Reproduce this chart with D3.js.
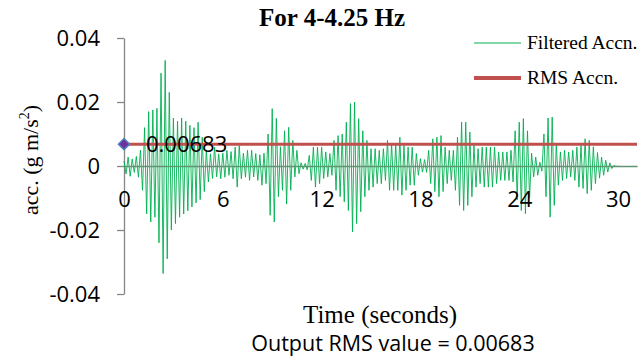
<!DOCTYPE html>
<html lang="en">
<head>
    <meta charset="UTF-8">
    <title>For 4-4.25 Hz</title>
    <script src="https://cdn.jsdelivr.net/npm/d3@7"></script>
    <style>
        body { margin: 0; background: #fff; }
        #chart { width: 644px; height: 360px; }
    </style>
</head>
<body>
<div id="chart"></div>
<script>

    // Band-passed acceleration, one positive and one negative peak per cycle (units of 0.001 g),
    // read off the plot, one row per second.
    const peakPos = [
        1.5, 2.8, 2.2, 3.0,    5.0, 12.0, 17.0, 17.5,   18.0, 29.0, 33.0, 23.0,  15.0, 14.0, 15.0, 14.0,
        12.7, 12.0, 13.7, 9.0, 5.0, 3.8, 5.9, 3.8,      4.0, 4.9, 4.5, 5.9,      6.4, 4.0, 4.9, 4.9,
        3.9, 3.5, 4.0, 10.0,   17.9, 14.9, 6.0, 11.0,   12.1, 8.0, 4.9, 1.0,     0.8, 3.3, 5.9, 5.9,
        5.9, 4.4, 3.9, 8.0,    9.5, 10.0, 13.7, 19.5,   20.0, 14.8, 11.0, 8.0,   5.4, 5.4, 4.9, 5.4,
        8.0, 7.0, 7.0, 9.0,    6.4, 5.9, 5.9, 3.9,      2.3, 2.0, 4.9, 8.5,      9.0, 9.5, 5.9, 4.9,
        4.9, 9.0, 13.7, 13.7,  10.6, 6.4, 5.4, 5.9,     5.9, 5.9, 5.9, 4.4,      4.4, 4.4, 4.9, 11.0,
        13.7, 14.8, 11.0, 4.0, 2.8, 1.2, 10.0, 15.0,    15.3, 7.0, 4.4, 4.9,     4.4, 4.9, 5.9, 6.4,
        8.5, 8.0, 6.0, 4.2,    2.8, 1.8, 1.0, 0.2
    ];
    const peakNeg = [
        -2.5, -3.2, -2.0, -3.5,    -7.6, -15.0, -17.5, -16.0,  -24.0, -33.6, -29.0, -20.0, -18.0, -16.0, -15.0, -14.0,
        -12.8, -11.5, -10.5, -8.0, -5.0, -3.9, -3.4, -4.0,     -3.5, -2.9, -4.0, -6.6,     -4.0, -3.5, -4.5, -3.4,
        -4.5, -6.0, -5.5, -15.4,   -17.5, -9.6, -7.6, -11.9,   -7.6, -3.4, -2.4, -1.0,     -1.2, -4.5, -6.6, -5.5,
        -3.9, -3.4, -2.9, -7.6,    -9.6, -11.2, -13.9, -20.6,  -18.0, -14.3, -9.6, -7.6,   -6.6, -5.5, -5.5, -4.5,
        -7.6, -7.6, -7.6, -9.1,    -7.6, -6.0, -6.0, -2.9,     -1.9, -2.0, -5.5, -8.0,     -9.6, -8.0, -5.5, -4.5,
        -7.6, -12.3, -13.9, -12.3, -9.6, -6.6, -5.5, -6.6,     -6.6, -6.6, -5.5, -4.5,     -4.5, -4.5, -5.0, -10.6,
        -13.9, -14.9, -10.0, -3.4, -2.9, -1.6, -9.6, -16.0,    -12.3, -6.0, -4.5, -3.9,    -3.4, -4.5, -6.6, -7.0,
        -8.6, -7.6, -5.5, -3.8,    -2.9, -1.9, -0.8, -0.2
    ];
    const cycleSeconds = 0.25;

    const rmsValue = 0.00683;
    const xTicks = [0, 6, 12, 18, 24, 30];
    const yTicks = [-0.04, -0.02, 0, 0.02, 0.04];
    const yTickLabels = ["-0.04", "-0.02", "0", "0.02", "0.04"];

    const titleText = "For 4-4.25 Hz";
    const xTitle = "Time (seconds)";
    const footer = "Output RMS value = 0.00683";
    const legendNames = ["Filtered Accn.", "RMS Accn."];

    const width = 644, height = 360;
    const sans = "'Open Sans', sans-serif";
    const serif = "'Liberation Serif', 'Times New Roman', serif";

    const x = d3.scaleLinear().domain([0, 31.15]).range([124, 637]);
    const y = d3.scaleLinear().domain([-0.04, 0.04]).range([294, 38]);

    // zig-zag through the peaks
    const signal = [];
    peakPos.forEach((p, i) => {
        signal.push([i * cycleSeconds, p / 1000]);
        signal.push([i * cycleSeconds + cycleSeconds / 2, peakNeg[i] / 1000]);
    });
    signal.push([peakPos.length * cycleSeconds, 0]);

    const svg = d3.select("#chart").append("svg")
        .attr("width", width)
        .attr("height", height)
        .attr("viewBox", [0, 0, width, height]);

    svg.append("rect").attr("width", width).attr("height", height).attr("fill", "#fff");

    // y axis
    const yAxis = svg.append("g")
        .attr("transform", `translate(${x(0)},0)`)
        .call(d3.axisLeft(y).tickValues(yTicks).tickSize(7).tickSizeOuter(0).tickPadding(17)
            .tickFormat((d, i) => yTickLabels[i]));
    yAxis.selectAll("path, line").attr("stroke", "#868686").attr("stroke-width", 1.3);
    yAxis.selectAll("text").attr("font-family", sans).attr("font-size", 22).attr("fill", "#000");

    // signal
    svg.append("path")
        .datum(signal)
        .attr("fill", "none")
        .attr("stroke", "#00b050")
        .attr("stroke-width", 0.9)
        .attr("stroke-linejoin", "miter")
        .attr("d", d3.line().x(d => x(d[0])).y(d => y(d[1])));

    // x axis through zero
    const xAxis = svg.append("g")
        .attr("transform", `translate(0,${y(0)})`)
        .call(d3.axisBottom(x).tickValues(xTicks).tickSize(0).tickPadding(25));
    xAxis.select(".domain").attr("stroke", "#5f9473").attr("stroke-width", 1.6);
    xAxis.selectAll("text").attr("font-family", sans).attr("font-size", 22).attr("fill", "#000");

    // RMS line
    svg.append("line")
        .attr("x1", x(0)).attr("x2", x(31.15))
        .attr("y1", y(rmsValue)).attr("y2", y(rmsValue))
        .attr("stroke", "#c0504d")
        .attr("stroke-width", 3);

    svg.append("path")
        .attr("transform", `translate(${x(0)},${y(rmsValue)})`)
        .attr("d", d3.symbol(d3.symbolDiamond2, 80)())
        .attr("fill", "#7030a0")
        .attr("stroke", "#4f81bd")
        .attr("stroke-width", 1.5);

    svg.append("text")
        .attr("x", x(0) + 22)
        .attr("y", y(rmsValue))
        .attr("dy", "0.36em")
        .attr("font-family", sans)
        .attr("font-size", 22)
        .text(d3.format(".5f")(rmsValue));

    // titles
    svg.append("text")
        .attr("x", 332).attr("y", 26)
        .attr("text-anchor", "middle")
        .attr("font-family", serif).attr("font-size", 25).attr("font-weight", "bold")
        .text(titleText);

    svg.append("text")
        .attr("transform", "translate(38,160) rotate(-90)")
        .attr("text-anchor", "middle")
        .attr("font-family", serif).attr("font-size", 22)
        .call(t => {
            t.append("tspan").text("acc. (g m/s");
            t.append("tspan").attr("font-size", 14).attr("dy", -9).text("2");
            t.append("tspan").attr("dy", 9).text(")");
        });

    svg.append("text")
        .attr("x", 380).attr("y", 323)
        .attr("text-anchor", "middle")
        .attr("font-family", serif).attr("font-size", 25)
        .text(xTitle);

    svg.append("text")
        .attr("x", 393).attr("y", 351)
        .attr("text-anchor", "middle")
        .attr("font-family", sans).attr("font-size", 21.5)
        .text(footer);

    // legend
    const legend = svg.append("g");
    const legendY = [43, 78];
    const legendColor = ["#00b050", "#c0504d"];
    const legendStroke = [1, 4];
    legendNames.forEach((name, i) => {
        legend.append("line")
            .attr("x1", 474).attr("x2", 521)
            .attr("y1", legendY[i]).attr("y2", legendY[i])
            .attr("stroke", legendColor[i]).attr("stroke-width", legendStroke[i]);
        legend.append("text")
            .attr("x", 527).attr("y", legendY[i]).attr("dy", "0.33em")
            .attr("font-family", serif).attr("font-size", 19.5)
            .text(name);
    });

</script>
</body>
</html>
